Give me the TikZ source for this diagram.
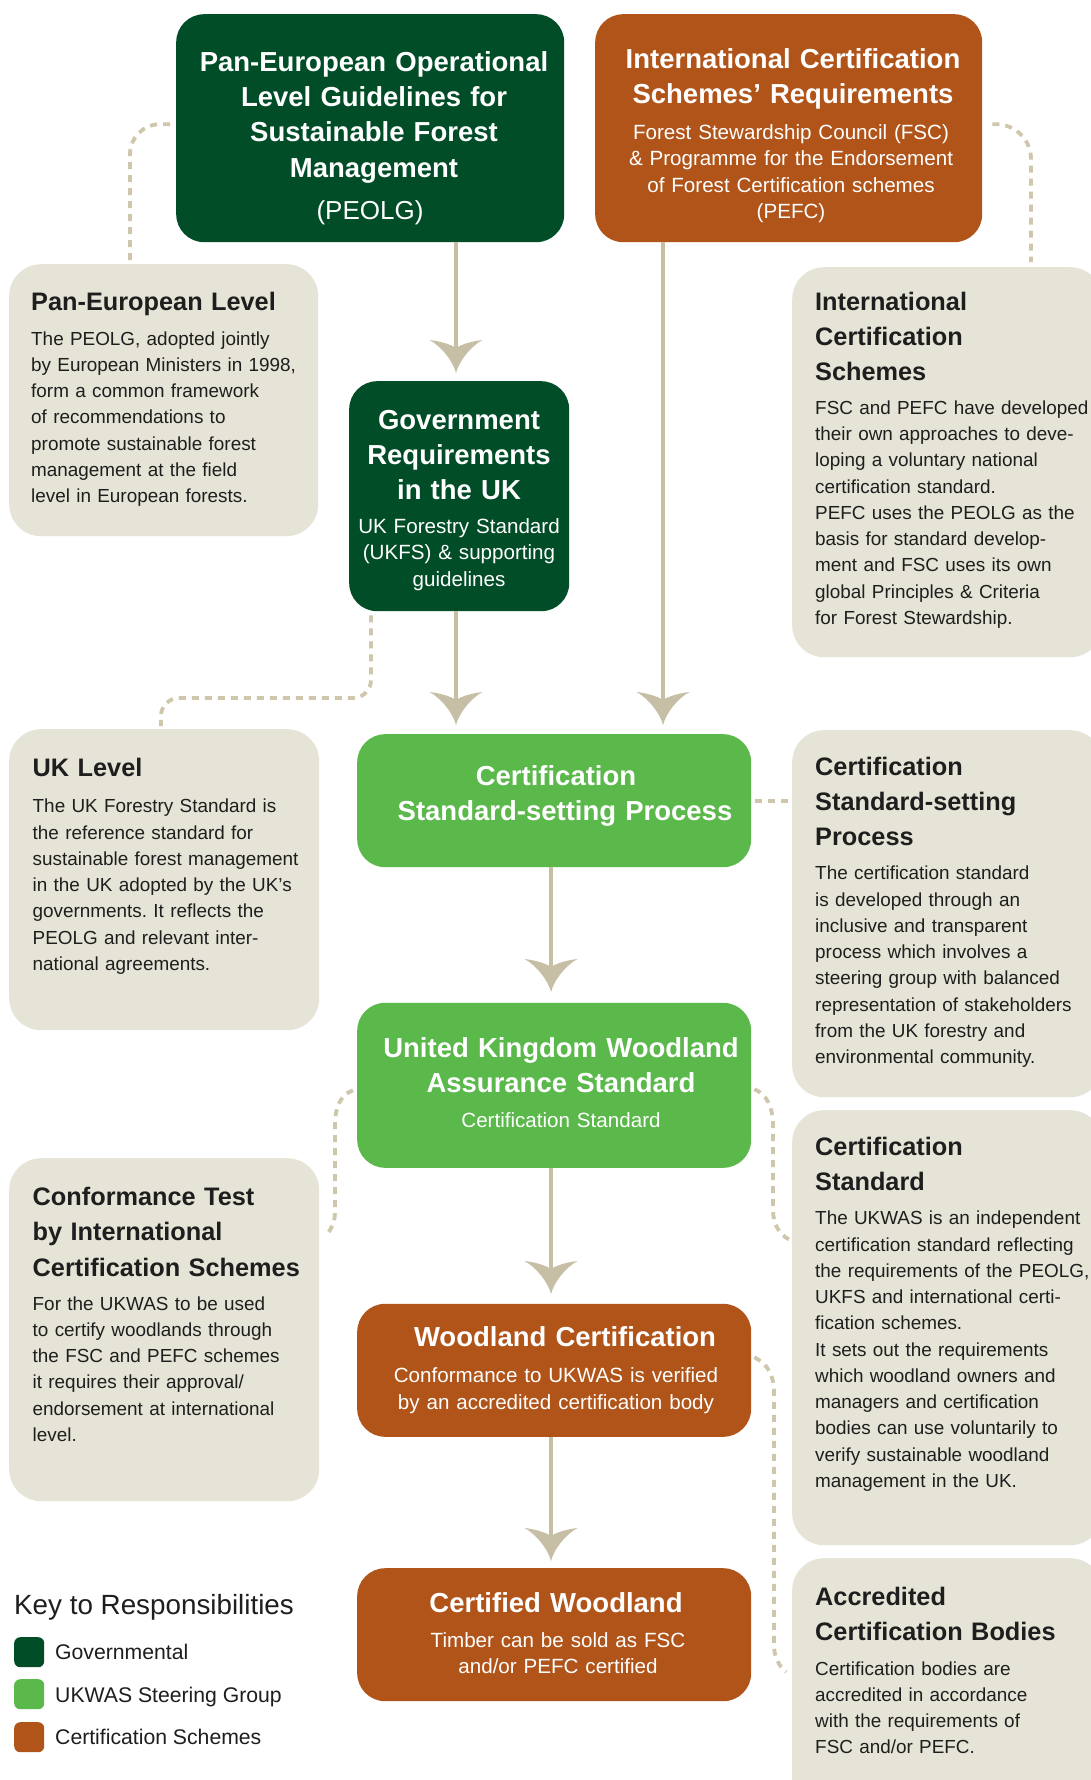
\documentclass[tikz,border=0pt]{standalone}
\usepackage{fontspec}
\setmainfont{Liberation Sans}
\frenchspacing
\usetikzlibrary{calc}
\definecolor{dkgreen}{HTML}{014D27}
\definecolor{ltgreen}{HTML}{5BB84B}
\definecolor{rust}{HTML}{B0541A}
\definecolor{panel}{HTML}{E6E4D6}
\definecolor{flowc}{HTML}{C6BFA5}
\definecolor{dashc}{HTML}{CEC7AC}
\definecolor{ink}{HTML}{1E1E1E}
\tikzset{
  cbox/.style={rectangle, rounded corners=28pt, inner sep=0pt, anchor=north west},
  gbox/.style={rectangle, rounded corners=32pt, fill=panel, inner sep=0pt, anchor=north west},
  keysq/.style={rectangle, rounded corners=6pt, inner sep=0pt, anchor=north west, minimum width=30pt, minimum height=30pt},
  htext/.style={font=\fontsize{27.5}{35.2}\selectfont\bfseries, text=white, text width=440pt, align=center, inner sep=0pt, anchor=base},
  stext/.style={font=\fontsize{20.6}{26.3}\selectfont, text=white, text width=440pt, align=center, inner sep=0pt, anchor=base},
  gh/.style={font=\fontsize{25.3}{35.2}\selectfont\bfseries, text=ink, text width=420pt, align=left, inner sep=0pt, anchor=base west},
  gb/.style={font=\fontsize{18.9}{26.25}\selectfont, text=ink, text width=420pt, align=left, inner sep=0pt, anchor=base west},
  keyt/.style={font=\fontsize{21.2}{25}\selectfont, text=ink, inner sep=0pt, anchor=base west},
  flowline/.style={draw=flowc, line width=3.5pt},
  dashlink/.style={draw=dashc, line width=3.8pt, dash pattern=on 7pt off 6pt},
  ahead/.pic={\fill[flowc] (0,0) .. controls (-3,-12) and (-15,-27) .. (-26.5,-33)
      .. controls (-17,-32) and (-6,-29) .. (0,-25)
      .. controls (6,-29) and (17,-32) .. (26.5,-33)
      .. controls (15,-27) and (3,-12) .. (0,0) -- cycle;}
}
\begin{document}
\begin{tikzpicture}[x=1pt,y=-1pt]
\useasboundingbox (0,0) rectangle (1091,1780);
\clip (0,0) rectangle (1091,1780);
\fill[white] (0,0) rectangle (1091,1780);

% ---------- boxes
\node[cbox, fill=dkgreen, minimum width=388pt, minimum height=228pt] (peolg) at (176,14) {};
\node[cbox, fill=rust, minimum width=387pt, minimum height=228pt] (ics) at (595,14) {};
\node[gbox, minimum width=309pt, minimum height=272pt] (paneu) at (9,264) {};
\node[cbox, fill=dkgreen, minimum width=220pt, minimum height=230pt] (gov) at (349,381) {};
\node[gbox, minimum width=310pt, minimum height=390pt] (intl) at (792,267) {};
\node[gbox, minimum width=310pt, minimum height=301pt] (ukl) at (9,729) {};
\node[cbox, fill=ltgreen, minimum width=394pt, minimum height=133pt] (cssp) at (357,734) {};
\node[gbox, minimum width=310pt, minimum height=367pt] (csspg) at (792,730) {};
\node[cbox, fill=ltgreen, minimum width=394pt, minimum height=165pt] (ukwas) at (357,1002.6) {};
\node[gbox, minimum width=310pt, minimum height=343pt] (conf) at (9,1158) {};
\node[gbox, minimum width=310pt, minimum height=435pt] (certstd) at (792,1110) {};
\node[cbox, fill=rust, minimum width=394pt, minimum height=133pt] (woodc) at (357,1303.6) {};
\node[gbox, minimum width=310pt, minimum height=260pt] (accr) at (792,1558) {};
\node[cbox, fill=rust, minimum width=394pt, minimum height=133pt] (certw) at (357,1568) {};

% ---------- arrow tips
\coordinate (tipA) at (456,373);
\coordinate (tipB) at (663,725);
\coordinate (tipC) at (456,725);
\coordinate (tipD) at (551,992);
\coordinate (tipE) at (551,1294);
\coordinate (tipF) at (551,1561);

\draw[flowline] (peolg.south -| tipA) -- ($(tipA)+(0,-20)$);
\draw[flowline] (ics.south -| tipB) -- ($(tipB)+(0,-20)$);
\draw[flowline] (gov.south -| tipC) -- ($(tipC)+(0,-20)$);
\draw[flowline] (cssp.south -| tipD) -- ($(tipD)+(0,-20)$);
\draw[flowline] (ukwas.south -| tipE) -- ($(tipE)+(0,-20)$);
\draw[flowline] (woodc.south -| tipF) -- ($(tipF)+(0,-20)$);
\pic at (tipA) {ahead};
\pic at (tipB) {ahead};
\pic at (tipC) {ahead};
\pic at (tipD) {ahead};
\pic at (tipE) {ahead};
\pic at (tipF) {ahead};

% ---------- dashed links
\draw[dashlink, rounded corners=30pt] ($(peolg.west)+(-6,-4)$) -| ($(paneu.north west)+(121,-2)$);
\draw[dashlink, rounded corners=35pt] ($(ics.east)+(10,-4)$) -| ($(intl.north west)+(239,-5)$);
\coordinate (govbend) at ($(ukl.north west)+(152,-31)$);
\draw[dashlink, rounded corners=18pt] ($(gov.south west)+(22,4)$) |- (govbend) -- ($(ukl.north west)+(152,-3)$);
\draw[dashlink, shorten <=4pt, shorten >=4pt] (cssp.east) -- (cssp.east -| csspg.west);
\draw[dashlink] ($(ukwas.west)+(-4,5)$) .. controls (340,1095) and (335,1108) .. (335,1125)
   -- (335,1212) .. controls (335,1222) and (331,1230) .. ($(conf.north east)+(6,78)$);
\draw[dashlink] ($(ukwas.east)+(3,4)$) .. controls (767,1094) and (773,1108) .. (773,1125)
   -- (773,1210) .. controls (773,1225) and (780,1235) .. ($(certstd.north west)+(-2,130)$);
\draw[dashlink] ($(woodc.east)+(3,-13)$) .. controls (768,1364) and (774,1376) .. (774,1392)
   -- (774,1645) .. controls (774,1657) and (779,1666) .. ($(accr.north west)+(-6,114)$);

% ---------- coloured box texts
\node[htext] (peolgT) at (374,71.5) {Pan-European Operational\\Level Guidelines for\\Sustainable Forest\\Management};
\node[stext, font=\fontsize{26}{30}\selectfont] (peolgS) at (370,219) {(PEOLG)};
\node[htext] (icsT) at (793,68) {International Certification\\Schemes’ Requirements};
\node[stext] (icsS) at (791,139.6) {Forest Stewardship Council (FSC)\\\& Programme for the Endorsement\\of Forest Certification schemes\\(PEFC)};
\node[htext] (govT) at (459,429) {Government\\Requirements\\in the UK};
\node[stext] (govS) at (459,533.5) {UK Forestry Standard\\(UKFS) \& supporting\\guidelines};
\node[htext] (csspT) at (556,785.6) {Certification};
\node[htext] (csspT2) at (565,820.8) {Standard-setting Process};
\node[htext] (ukwasT) at (561,1057) {United Kingdom Woodland\\Assurance Standard};
\node[stext] (ukwasS) at (561,1127) {Certification Standard};
\node[htext] (woodcT) at (565,1346) {Woodland Certification};
\node[stext] (woodcS) at (556,1382.7) {Conformance to UKWAS is verified\\by an accredited certification body};
\node[htext] (certwT) at (556,1612) {Certified Woodland};
\node[stext] (certwS) at (558,1647) {Timber can be sold as FSC\\and/or PEFC certified};

% ---------- grey panel texts
\node[gh] (paneuH) at (31,310) {Pan-European Level};
\node[gb] (paneuB) at (31,345) {The PEOLG, adopted jointly\\by European Ministers in 1998,\\form a common framework\\of recommendations to\\promote sustainable forest\\management at the field\\level in European forests.};

\node[gh] (intlH) at (815,310) {International\\Certification\\Schemes};
\node[gb] (intlB) at (815,414.3) {FSC and PEFC have developed\\their own approaches to deve-\\loping a voluntary national\\certification standard.\\PEFC uses the PEOLG as the\\basis for standard develop-\\ment and FSC uses its own\\global Principles \& Criteria\\for Forest Stewardship.};

\node[gh] (uklH) at (32.5,776.5) {UK Level};
\node[gb] (uklB) at (32.5,812.8) {The UK Forestry Standard is\\the reference standard for\\sustainable forest management\\in the UK adopted by the UK’s\\governments. It reflects the\\PEOLG and relevant inter-\\national agreements.};

\node[gh] (csspgH) at (815,775.3) {Certification\\Standard-setting\\Process};
\node[gb] (csspgB) at (815,879.8) {The certification standard\\is developed through an\\inclusive and transparent\\process which involves a\\steering group with balanced\\representation of stakeholders\\from the UK forestry and\\environmental community.};

\node[gh] (confH) at (32.5,1205.6) {Conformance Test\\by International\\Certification Schemes};
\node[gb] (confB) at (32.5,1310) {For the UKWAS to be used\\to certify woodlands through\\the FSC and PEFC schemes\\it requires their approval/\\endorsement at international\\level.};

\node[gh] (certstdH) at (815,1155.6) {Certification\\Standard};
\node[gb] (certstdB) at (815,1224.9) {The UKWAS is an independent\\certification standard reflecting\\the requirements of the PEOLG,\\UKFS and international certi-\\fication schemes.\\It sets out the requirements\\which woodland owners and\\managers and certification\\bodies can use voluntarily to\\verify sustainable woodland\\management in the UK.};

\node[gh] (accrH) at (815,1605) {Accredited\\Certification Bodies};
\node[gb] (accrB) at (815,1675) {Certification bodies are\\accredited in accordance\\with the requirements of\\FSC and/or PEFC.};

% ---------- key
\node[font=\fontsize{27.8}{32}\selectfont, text=ink, inner sep=0pt, anchor=base west] (keyT) at (14,1614) {Key to Responsibilities};
\node[keysq, fill=dkgreen] (k1) at (14,1637) {};
\node[keysq, fill=ltgreen] (k2) at (14,1679) {};
\node[keysq, fill=rust] (k3) at (14,1722) {};
\node[keyt] (k1t) at (55,1659) {Governmental};
\node[keyt] (k2t) at (55,1702) {UKWAS Steering Group};
\node[keyt] (k3t) at (55,1744) {Certification Schemes};
\end{tikzpicture}
\end{document}
